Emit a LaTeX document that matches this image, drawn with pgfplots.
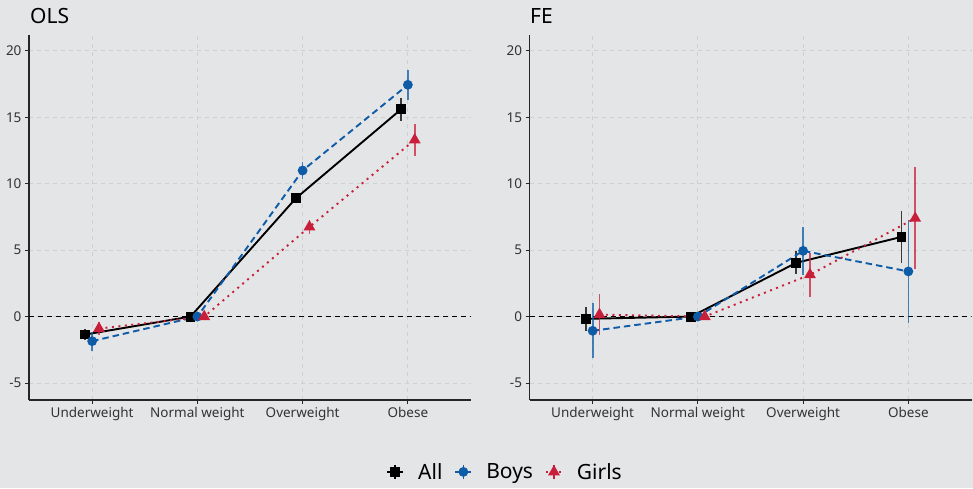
\documentclass[border=0pt]{standalone}
\usepackage{pgfplots}
\pgfplotsset{compat=1.18}
\usepackage{fontspec}
\setmainfont{Noto Sans}
\definecolor{bg}{RGB}{228,229,231}
\definecolor{boys}{RGB}{14,92,168}
\definecolor{girls}{RGB}{200,30,58}
\definecolor{gridc}{RGB}{207,208,210}
\pgfplotsset{
 panel/.style={
  scale only axis, width=442pt, height=365pt,
  xmin=0.4, xmax=4.6, ymin=-6.28, ymax=21.2,
  xtick={1,2,3,4}, xticklabels={Underweight,Normal weight,Overweight,Obese},
  ytick={-5,0,5,10,15,20},
  axis x line*=bottom, axis y line*=left,
  axis line style={line width=1.3pt, black!85, -},
  tick style={black!85, line width=0.9pt},
  tick align=outside, major tick length=4pt,
  grid=major, major grid style={gridc, dash pattern=on 4pt off 4pt, line width=0.9pt},
  tick label style={font=\fontsize{13.5}{15}\selectfont, text=black!80},
  /pgf/number format/assume math mode=true,
  error bars/y dir=both, error bars/y explicit,
  error bars/error mark=none,
  error bars/error bar style={solid, line width=1.7pt, opacity=0.75},
  legend image code/.code={
    \draw[#1, mark=none, solid, line width=1.7pt] (0pt,-7pt) -- (0pt,7pt);
    \draw[mark repeat=2, mark phase=2, #1] plot coordinates {(-8pt,0pt) (0pt,0pt) (8pt,0pt)};
  },
 },
 sAll/.style={black, solid, line width=1.9pt, mark=square*, mark size=4pt, mark options={solid}},
 sBoys/.style={boys, dash pattern=on 6.5pt off 4pt, line width=1.9pt, mark=*, mark size=3.9pt, mark options={solid}},
 sGirls/.style={girls, dash pattern=on 2pt off 4.5pt, line width=1.9pt, mark=triangle*, mark size=5pt, mark options={solid}},
 zeroline/.style={black, dash pattern=on 5pt off 4pt, line width=1.3pt, forget plot},
}
\begin{document}
\begin{tikzpicture}
\useasboundingbox (0,0) rectangle (973pt,488pt);
\fill[bg] (0,0) rectangle (973pt,488pt);
\node[anchor=base west, font=\fontsize{21}{24}\selectfont, inner sep=0pt] at (30pt,464pt) {OLS};
\node[anchor=base west, font=\fontsize{21}{24}\selectfont, inner sep=0pt] at (530pt,464pt) {FE};

\begin{axis}[panel, at={(29pt,88pt)}, anchor=south west,
  legend style={at={(1.077,-0.197)}, anchor=center, draw=none, fill=none,
    legend columns=3, font=\fontsize{21}{24}\selectfont,
    /tikz/every even column/.append style={column sep=10pt},
    /tikz/every odd column/.append style={column sep=12pt}},
  legend cell align=left]
\addplot[zeroline] coordinates {(0.4,0) (4.6,0)};
\addplot[sAll] coordinates {(0.935,-1.35) +- (0,0.38) (1.935,0) +- (0,0) (2.935,8.9) +- (0,0.38) (3.935,15.6) +- (0,0.85)};
\addlegendentry{All}
\addplot[sBoys] coordinates {(1,-1.85) +- (0,0.72) (2,0) +- (0,0) (3,11.0) +- (0,0.62) (4,17.45) +- (0,1.15)};
\addlegendentry{Boys}
\addplot[sGirls] coordinates {(1.065,-0.9) +- (0,0.5) (2.065,0) +- (0,0) (3.065,6.75) +- (0,0.5) (4.065,13.3) +- (0,1.2)};
\addlegendentry{Girls}
\end{axis}

\begin{axis}[panel, at={(529.5pt,88pt)}, anchor=south west]
\addplot[zeroline] coordinates {(0.4,0) (4.6,0)};
\addplot[sAll] coordinates {(0.935,-0.17) +- (0,0.9) (1.935,0) +- (0,0) (2.935,4.05) +- (0,0.88) (3.935,6.0) +- (0,1.97)};
\addplot[sBoys] coordinates {(1,-1.07) +- (0,2.08) (2,0) +- (0,0) (3,4.95) +- (0,1.82) (4,3.4) +- (0,3.85)};
\addplot[sGirls] coordinates {(1.065,0.15) +- (0,1.55) (2.065,0) +- (0,0) (3.065,3.15) +- (0,1.67) (4.065,7.4) +- (0,3.85)};
\end{axis}
\end{tikzpicture}
\end{document}
